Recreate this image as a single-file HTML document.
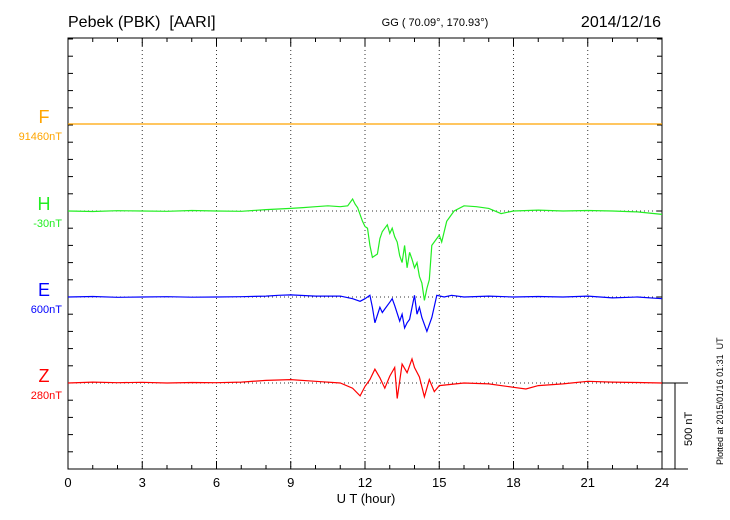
<!DOCTYPE html>
<html><head><meta charset="utf-8"><style>
body{margin:0;background:#fff;}
svg{display:block;font-family:"Liberation Sans",sans-serif;}
</style></head><body>
<svg id="c" width="730" height="520">
<text x="68" y="27" font-size="16">Pebek (PBK)&#160;&#160;[AARI]</text>
<text x="435" y="26" font-size="11" text-anchor="middle">GG ( 70.09°, 170.93°)</text>
<text x="661" y="27" font-size="16" text-anchor="end">2014/12/16</text>
<text x="366" y="503" font-size="13" text-anchor="middle">U T (hour)</text>
<text transform="translate(723,465) rotate(-90)" font-size="9">Plotted at 2015/01/16 01:31&#160;&#160;UT</text>
<text transform="translate(692,446) rotate(-90)" font-size="11">500 nT</text>
<g id="g"></g>
</svg>
<script>
const xTicks=[0,3,6,9,12,15,18,21,24];
const tH=[0,1,2,3,4,5,6,7,8,9,9.5,10,10.5,11,11.3,11.5,11.6,11.7,11.9,12.0,12.1,12.2,12.3,12.5,12.6,12.7,12.9,13.0,13.1,13.2,13.3,13.4,13.5,13.6,13.7,13.8,13.9,14.0,14.1,14.2,14.3,14.4,14.5,14.6,14.7,14.9,15.0,15.1,15.3,15.6,16,16.5,17,17.5,18,19,20,21,22,23,24];
const vH=[0,-3,2,0,-2,3,0,-2,8,15,20,25,30,25,30,70,40,20,-60,-90,-100,-200,-270,-250,-160,-120,-80,-130,-100,-150,-180,-260,-300,-200,-330,-240,-280,-330,-300,-380,-420,-520,-450,-400,-200,-160,-140,-180,-60,0,30,25,15,-15,0,5,0,3,0,-5,-20];
const tE=[0,1,2,3,4,5,6,7,8,8.5,9,10,11,11.5,11.8,12.0,12.2,12.3,12.4,12.6,12.7,12.8,13,13.1,13.2,13.4,13.5,13.6,13.7,13.8,14.0,14.1,14.2,14.3,14.5,14.7,14.9,15.2,15.5,16,17,18,19,20,21,22,23,24];
const vE=[0,3,-2,0,2,-1,0,2,5,10,12,5,5,-10,-25,-10,10,-60,-150,-60,-90,-70,-30,-10,-50,-140,-100,-180,-150,-130,10,-100,-60,-120,-200,-120,10,0,10,0,5,0,3,0,5,-5,0,-10];
const tZ=[0,1,2,3,4,5,6,7,8,9,10,11,11.5,11.8,12,12.2,12.4,12.6,12.8,13,13.2,13.3,13.5,13.7,13.9,14.0,14.2,14.4,14.6,14.8,15,16,17,18,18.5,19,20,21,22,23,24];
const vZ=[0,5,2,4,0,3,2,5,15,20,10,0,-30,-75,-20,20,80,30,-30,40,90,-90,110,60,140,90,35,-80,20,-50,-15,0,-5,-25,-35,-15,-5,10,5,3,0];
const tF=[0,24];const vF=[0,0];
const L=68,R=662,T=38,B=469,PXNT=86/500;
const X=h=>L+h/24*(R-L);
const NS='http://www.w3.org/2000/svg';
const g=document.getElementById('g');
function mk(tag,a){const e=document.createElementNS(NS,tag);for(const k in a)e.setAttribute(k,a[k]);g.appendChild(e);return e;}
const series=[
 {n:'F',base:124,t:tF,v:vF,col:'#ffa500',lab:'91460nT'},
 {n:'H',base:211,t:tH,v:vH,col:'#22ee22',lab:'-30nT'},
 {n:'E',base:297,t:tE,v:vE,col:'#0000ff',lab:'600nT'},
 {n:'Z',base:383,t:tZ,v:vZ,col:'#ff0000',lab:'280nT'}];
xTicks.slice(1,-1).forEach(h=>{const e=mk('line',{x1:X(h),x2:X(h),y1:T,y2:B,stroke:'#333','stroke-dasharray':'1,3'});

});
series.forEach(s=>{const e=mk('line',{x1:L,x2:R,y1:s.base,y2:s.base,stroke:'#333','stroke-dasharray':'1,3'});

});
const fr=mk('rect',{x:L,y:T,width:R-L,height:B-T,fill:'none',stroke:'#000'});


for(let h=0;h<=24;h++){const len=h%3==0?8:4;
mk('line',{x1:X(h),x2:X(h),y1:B,y2:B-len,stroke:'#000'});
mk('line',{x1:X(h),x2:X(h),y1:T,y2:T+len,stroke:'#000'});}
for(let y=B;y>=T;y-=86/5){mk('line',{x1:L,x2:L+5,y1:y,y2:y,stroke:'#000'});mk('line',{x1:R,x2:R-5,y1:y,y2:y,stroke:'#000'});}
xTicks.forEach(h=>{const e=mk('text',{x:X(h),y:487,'font-size':13,'text-anchor':'middle'});e.textContent=h;

});
mk('line',{x1:R,x2:688,y1:383,y2:383,stroke:'#000'});
mk('line',{x1:R,x2:688,y1:B,y2:B,stroke:'#000'});
const sb=mk('line',{x1:675,x2:675,y1:383,y2:B,stroke:'#000'});


series.forEach(s=>{
 const d=s.t.map((h,i)=>(i?'L':'M')+X(h).toFixed(1)+','+(s.base-s.v[i]*PXNT).toFixed(1)).join('');
 const p=mk('path',{d:d,fill:'none',stroke:s.col,'stroke-width':1.2});
 
 
 const t1=mk('text',{x:44,y:s.base-1,'font-size':18,fill:s.col,'text-anchor':'middle'});t1.textContent=s.n;
 
 
 const t2=mk('text',{x:62,y:s.base+16,'font-size':11,fill:s.col,'text-anchor':'end'});t2.textContent=s.lab;
 
 
});
</script>
</body></html>
